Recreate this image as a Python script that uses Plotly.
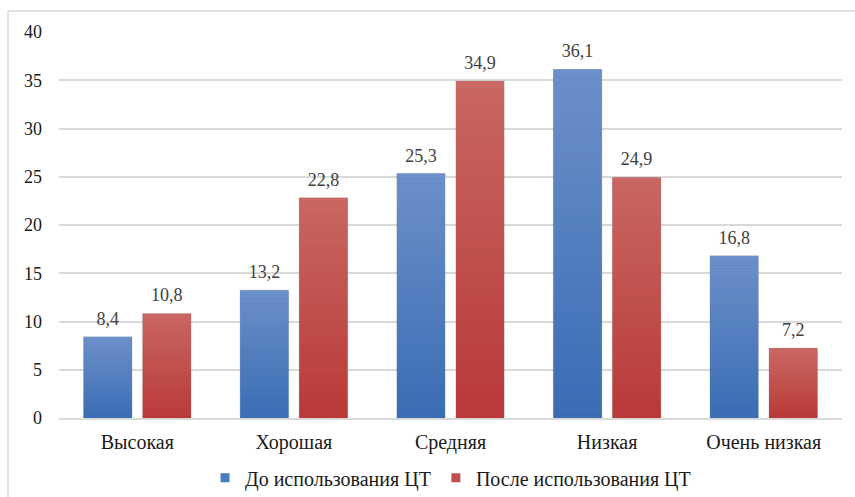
import plotly.graph_objects as go

categories = ["Высокая", "Хорошая", "Средняя", "Низкая", "Очень низкая"]
before_values = [8.4, 13.2, 25.3, 36.1, 16.8]
after_values = [10.8, 22.8, 34.9, 24.9, 7.2]
series_names = ["До использования ЦТ", "После использования ЦТ"]
y_ticks = [0, 5, 10, 15, 20, 25, 30, 35, 40]

FONT = "Liberation Serif"
N_STEPS = 50        # vertical slices used to shade each bar from dark (bottom) to light (top)
LABEL_PAD = 0.55    # extra room (in axis units) between a bar top and its value label

styles = [
    {"group": "before", "bottom": (58, 108, 180), "top": (108, 144, 201), "legend": "#4A7CC0"},
    {"group": "after", "bottom": (184, 57, 55), "top": (201, 103, 99), "legend": "#C0504D"},
]


def mix(c1, c2, t):
    return "rgb({},{},{})".format(*[round(a + (b - a) * t) for a, b in zip(c1, c2)])


def fmt(v):
    return f"{v:.1f}".replace(".", ",")


fig = go.Figure()

for name, values, st in zip(series_names, [before_values, after_values], styles):
    # full-height bar with a soft outline
    fig.add_trace(go.Bar(
        x=categories, y=values, name=name, offsetgroup=st["group"],
        marker=dict(color=st["legend"], line=dict(color="rgba(0,0,0,0.12)", width=1.5)),
        showlegend=False, hoverinfo="skip",
    ))
    # shaded slices stacked on top of it
    for k in range(N_STEPS):
        t = (k + 0.5) / N_STEPS
        fig.add_trace(go.Bar(
            x=categories,
            y=[v / N_STEPS * 1.05 for v in values],
            base=[v * k / N_STEPS for v in values],
            offsetgroup=st["group"],
            marker=dict(color=mix(st["bottom"], st["top"], t), line=dict(width=0)),
            showlegend=False, hoverinfo="skip",
        ))
    # invisible spacer above each bar that carries the value label
    fig.add_trace(go.Bar(
        x=categories, y=[LABEL_PAD] * len(values), base=values,
        offsetgroup=st["group"],
        marker=dict(color="rgba(0,0,0,0)", line=dict(width=0)),
        text=[fmt(v) for v in values], textposition="outside",
        textfont=dict(family=FONT, size=18, color="#404040"),
        cliponaxis=False, showlegend=False, hovertext=[fmt(v) for v in values],
        hoverinfo="text",
    ))

# legend entries with small square swatches
for name, st in zip(series_names, styles):
    fig.add_trace(go.Scatter(
        x=[None], y=[None], mode="markers", name=name,
        marker=dict(symbol="square", size=9, color=st["legend"]),
        showlegend=True,
    ))

W, H = 855, 497
ml, mr, mt, mb = 59, 13, 32, 79

fig.update_layout(
    template="none",
    width=W, height=H,
    margin=dict(l=ml, r=mr, t=mt, b=mb, autoexpand=False),
    paper_bgcolor="white", plot_bgcolor="white",
    barmode="group", bargap=0.246, bargroupgap=0.186,
    font=dict(family=FONT, size=18, color="#1a1a1a"),
    legend=dict(orientation="h", x=0.5, xanchor="center", y=-0.155, yanchor="middle",
                font=dict(family=FONT, size=20, color="#1a1a1a"),
                itemwidth=30, tracegroupgap=0),
    showlegend=True,
)

fig.update_xaxes(showgrid=False, showline=True, linecolor="#d9d9d9", linewidth=1.5,
                 ticks="", ticklabelstandoff=5, tickfont=dict(family=FONT, size=20))
fig.update_yaxes(range=[0, 40], tickvals=y_ticks, showgrid=True, gridcolor="#d9d9d9",
                 gridwidth=1.5, zeroline=False, showline=False, ticks="",
                 ticklabelstandoff=16, tickfont=dict(family=FONT, size=18))

# chart frame (left and top edges)
fx0 = (8 - ml) / (W - ml - mr)
fy1 = 1 + (mt - 11) / (H - mt - mb)
fig.add_shape(type="line", xref="paper", yref="paper", x0=fx0, x1=fx0, y0=fy1, y1=-1,
              line=dict(color="#d9d9d9", width=1.5))
fig.add_shape(type="line", xref="paper", yref="paper", x0=fx0, x1=2, y0=fy1, y1=fy1,
              line=dict(color="#d9d9d9", width=1.5))

fig.write_html("out.html")
